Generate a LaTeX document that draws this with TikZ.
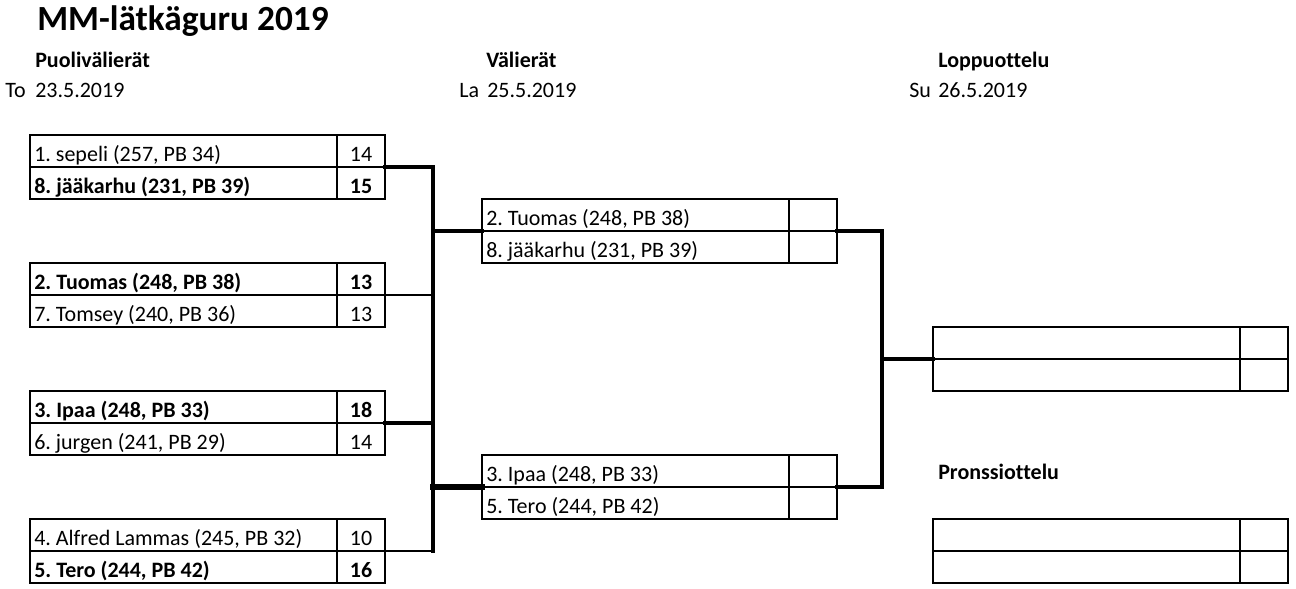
\documentclass[tikz,border=0pt]{standalone}
\usepackage{fontspec}
\setmainfont{Carlito}[Ligatures={NoCommon}]
\frenchspacing
\newcommand\cellname[1]{\makebox[224pt][l]{#1}}
\begin{document}
\begin{tikzpicture}[x=0.75pt,y=-0.75pt,
  font=\fontsize{16.5pt}{19pt}\selectfont,
  cellbase/.style={draw=black,line width=1.5pt,minimum height=24pt,inner ysep=0pt,
     text height=15.5pt,text depth=0.4pt,anchor=north west,outer sep=0pt},
  namecell/.style={cellbase,inner xsep=3.2pt,minimum width=230.4pt},
  scorecell/.style={cellbase,inner xsep=0pt,minimum width=36pt,align=center},
  win/.style={font=\fontsize{16.5pt}{19pt}\selectfont\bfseries},
  lbl/.style={anchor=base west,inner sep=0pt},
  head/.style={lbl,font=\fontsize{16.5pt}{19pt}\selectfont\bfseries},
  conn/.style={line width=2.8pt,line cap=rect}
]
\useasboundingbox (0,0) rectangle (1296,589);

% title and headings
\node[lbl,font=\fontsize{26.5pt}{31pt}\selectfont\bfseries] (title) at (37,30) {MM-lätkäguru 2019};
\node[head] (h1) at (35,67) {Puolivälierät};
\node[lbl] (d1a) at (5,97) {To};
\node[lbl] (d1b) at (35,97) {23.5.2019};
\node[head] (h2) at (486,67) {Välierät};
\node[lbl] (d2a) at (459,97) {La};
\node[lbl] (d2b) at (487,97) {25.5.2019};
\node[head] (h3) at (938,67) {Loppuottelu};
\node[lbl] (d3a) at (909,97) {Su};
\node[lbl] (d3b) at (938,97) {26.5.2019};
\node[head] (h4) at (938,479) {Pronssiottelu};

% quarterfinals
\node[namecell] (q1n1) at (30,135) {\cellname{1. sepeli (257, PB 34)}};
\node[scorecell] (q1s1) at (337,135) {14};
\node[namecell,win] (q1n2) at (30,167) {\cellname{8. jääkarhu (231, PB 39)}};
\node[scorecell,win] (q1s2) at (337,167) {15};

\node[namecell,win] (q2n1) at (30,263) {\cellname{2. Tuomas (248, PB 38)}};
\node[scorecell,win] (q2s1) at (337,263) {13};
\node[namecell] (q2n2) at (30,295) {\cellname{7. Tomsey (240, PB 36)}};
\node[scorecell] (q2s2) at (337,295) {13};

\node[namecell,win] (q3n1) at (30,391) {\cellname{3. Ipaa (248, PB 33)}};
\node[scorecell,win] (q3s1) at (337,391) {18};
\node[namecell] (q3n2) at (30,423) {\cellname{6. jurgen (241, PB 29)}};
\node[scorecell] (q3s2) at (337,423) {14};

\node[namecell] (q4n1) at (30,519) {\cellname{4. Alfred Lammas (245, PB 32)}};
\node[scorecell] (q4s1) at (337,519) {10};
\node[namecell,win] (q4n2) at (30,551) {\cellname{5. Tero (244, PB 42)}};
\node[scorecell,win] (q4s2) at (337,551) {16};

% semifinals
\node[namecell] (s1n1) at (482,199) {\cellname{2. Tuomas (248, PB 38)}};
\node[scorecell] (s1s1) at (789,199) {};
\node[namecell] (s1n2) at (482,231) {\cellname{8. jääkarhu (231, PB 39)}};
\node[scorecell] (s1s2) at (789,231) {};

\node[namecell] (s2n1) at (482,455) {\cellname{3. Ipaa (248, PB 33)}};
\node[scorecell] (s2s1) at (789,455) {};
\node[namecell] (s2n2) at (482,487) {\cellname{5. Tero (244, PB 42)}};
\node[scorecell] (s2s2) at (789,487) {};

% final
\node[namecell] (f1n1) at (933,327) {};
\node[scorecell] (f1s1) at (1240,327) {};
\node[namecell] (f1n2) at (933,359) {};
\node[scorecell] (f1s2) at (1240,359) {};

% bronze
\node[namecell] (b1n1) at (933,519) {};
\node[scorecell] (b1s1) at (1240,519) {};
\node[namecell] (b1n2) at (933,551) {};
\node[scorecell] (b1s2) at (1240,551) {};

% connectors left
\coordinate (vx) at (433,0);
\draw[conn] (q1s1.south east) -| (vx |- q4s1.south east);
\draw[conn,line width=2pt] (q2s1.south east) -- (vx |- q2s1.south east);
\draw[conn,line width=3.4pt] (q3s1.south east) -- (vx |- q3s1.south east);
\draw[conn,line width=2pt] (q4s1.south east) -- (vx |- q4s1.south east);
\draw[conn] (vx |- s1n1.south west) -- (s1n1.south west);
\draw[conn,line width=4pt] (vx |- s2n1.south west) -- (s2n1.south west);

% connectors right
\coordinate (rx) at (882,0);
\draw[conn] (s1s1.south east) -| (rx |- s2s1.south east) -- (s2s1.south east);
\draw[conn] (rx |- f1n1.south west) -- (f1n1.south west);
\end{tikzpicture}
\end{document}
